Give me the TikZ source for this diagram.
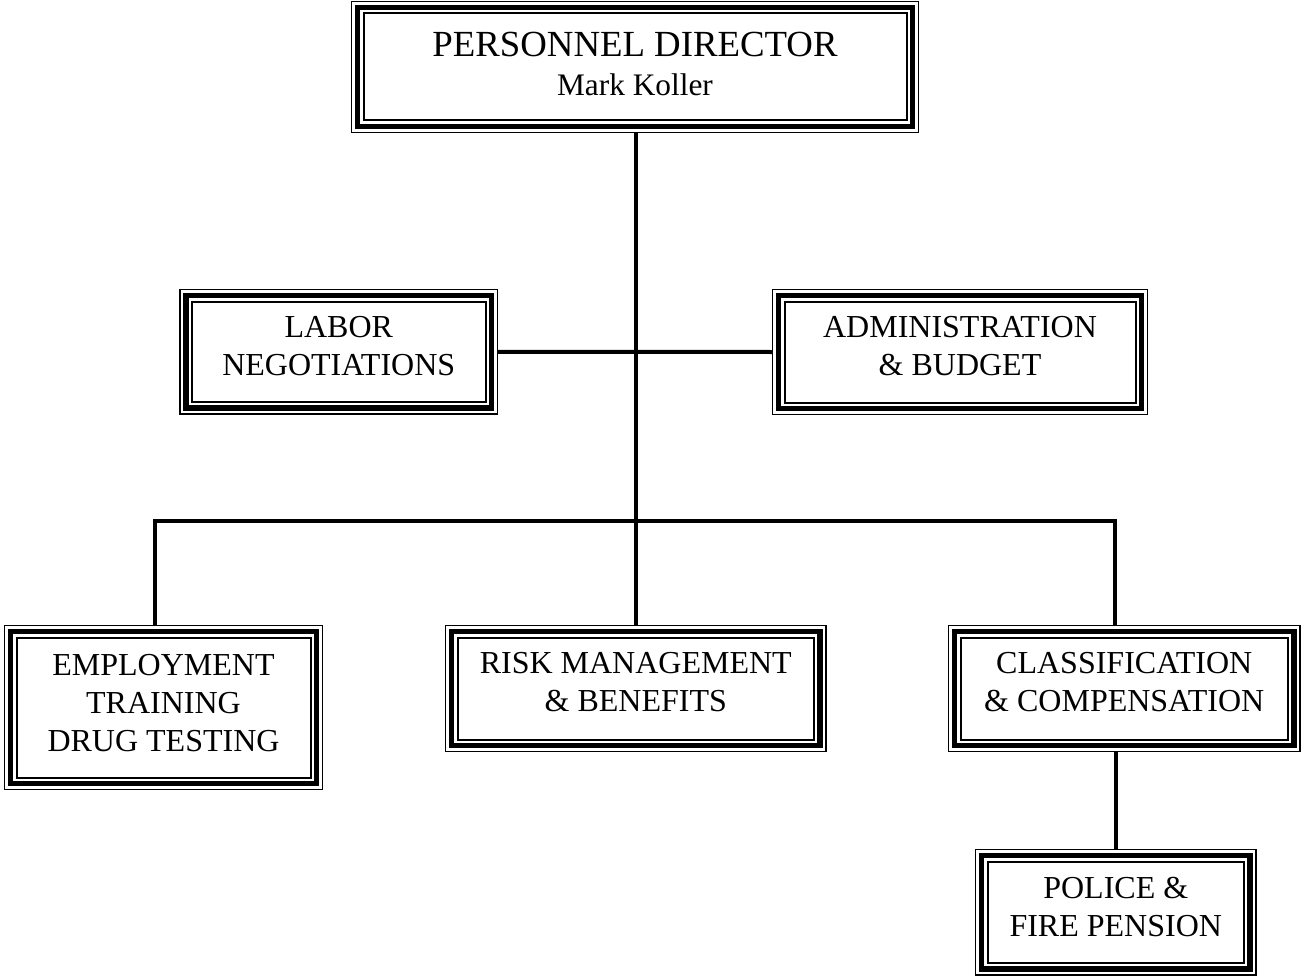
\documentclass[tikz,border=0pt]{standalone}
\usepackage{fontspec}
\setmainfont{Liberation Serif}
\usetikzlibrary{fit}
\tikzset{
  frame/.style={draw, line width=1.1pt, inner sep=0pt, outer sep=0pt},
  conn/.style={line width=3pt, line join=miter},
  boxtext/.style={align=center, anchor=north, inner sep=0pt, font=\fontsize{24}{28.5}\selectfont},
}
\newcommand\triframe[1]{%
  \draw[line width=3.9pt] ([shift={(6,6)}]#1.north west) rectangle ([shift={(-6,-6)}]#1.south east);
  \draw[line width=1.5pt] ([shift={(12,12)}]#1.north west) rectangle ([shift={(-12,-12)}]#1.south east);
}
\begin{document}
\begin{tikzpicture}[x=0.75pt,y=-0.75pt]
\useasboundingbox (0,0) rectangle (1302,977);
% boxes
\node[frame, fit={(351.5,1.5) (918.5,132.5)}] (dir) {};
\node[frame, fit={(180,289.5) (497.5,414)}] (labor) {};
\node[frame, fit={(772.5,289.5) (1147.5,414.5)}] (admin) {};
\node[frame, fit={(4.5,625.5) (322.5,789.5)}] (emp) {};
\node[frame, fit={(445.5,625.5) (826,751.5)}] (risk) {};
\node[frame, fit={(948.5,625.5) (1300,751.5)}] (cls) {};
\node[frame, fit={(975.5,849.5) (1256,975)}] (police) {};
\triframe{dir}
\triframe{labor}
\triframe{admin}
\triframe{emp}
\triframe{risk}
\triframe{cls}
\triframe{police}
% texts
\node[boxtext, font=\fontsize{27.6}{33}\selectfont] (dirt) at (635,31.5)
  {PERSONNEL DIRECTOR\\[-3.1pt]{\fontsize{23.5}{28.5}\selectfont Mark Koller}};
\node[boxtext] (labort) at (338.75,316.5) {LABOR\\NEGOTIATIONS};
\node[boxtext] (admint) at (960,316.3) {ADMINISTRATION\\\& BUDGET};
\node[boxtext] (empt) at (163.5,654) {EMPLOYMENT\\TRAINING\\DRUG TESTING};
\node[boxtext] (riskt) at (635.75,652) {RISK MANAGEMENT\\\& BENEFITS};
\node[boxtext] (clst) at (1124.25,652.3) {CLASSIFICATION\\\& COMPENSATION};
\node[boxtext] (policet) at (1115.75,877.3) {POLICE \&\\FIRE PENSION};
% connectors
\coordinate (busL) at (155,520.5);
\coordinate (busR) at (1115,520.5);
\draw[conn] (risk.north |- dir.south) -- (risk.north);
\draw[conn] (labor.east) -- (admin.west);
\draw[conn] (busL |- emp.north) -- (busL) -- (busR) -- (busR |- cls.north);
\draw[conn] (police.north) -- (police.north |- cls.south);
\end{tikzpicture}
\end{document}
